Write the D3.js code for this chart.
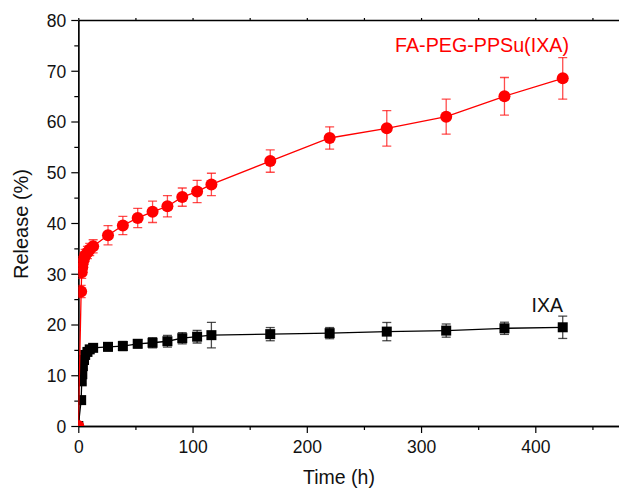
<!DOCTYPE html>
<html>
<head>
<meta charset="utf-8">
<script src="https://cdn.jsdelivr.net/npm/d3@7"></script>
<style>
  html, body { margin: 0; padding: 0; background: #fff; }
  svg { display: block; font-family: Arial, "Liberation Sans", sans-serif; }
</style>
</head>
<body>
<svg id="chart" width="619" height="488"></svg>
<script>
// ---- data ----
const timeH = [0, 2.5, 3, 3.5, 4, 5, 6, 8, 10, 13, 26, 39, 52, 65, 78, 91, 104, 116.5, 168, 220, 270, 322, 373, 424];
const releaseNP = [0, 26.5, 30.3, 31.3, 32.2, 33.0, 33.6, 34.2, 34.8, 35.4, 37.6, 39.5, 41.0, 42.2, 43.3, 45.1, 46.2, 47.6, 52.2, 56.75, 58.66, 60.95, 64.97, 68.5];
const errNP = [0, 1.2, 1.2, 1.2, 1.2, 1.2, 1.2, 1.2, 1.2, 1.3, 1.9, 1.8, 1.9, 2.1, 2.1, 1.8, 2.2, 2.2, 2.2, 2.2, 3.5, 3.45, 3.7, 4.1];
const releaseIXA = [0, 5.1, 8.8, 10.2, 11.8, 13.0, 14.0, 14.6, 15.1, 15.4, 15.6, 15.75, 16.2, 16.4, 16.7, 17.3, 17.6, 17.9, 18.1, 18.3, 18.6, 18.8, 19.25, 19.45];
const errIXA = [0, 0.5, 0.5, 0.5, 0.5, 0.5, 0.5, 0.6, 0.6, 0.7, 0.8, 0.9, 0.8, 1.0, 1.15, 1.1, 1.25, 2.5, 1.3, 1.1, 1.8, 1.3, 1.2, 2.2];
const xMajorTicks = [0, 100, 200, 300, 400];
const xMinorTicks = [50, 150, 250, 350, 450];
const yMajorTicks = [0, 10, 20, 30, 40, 50, 60, 70, 80];
const yMinorTicks = [5, 15, 25, 35, 45, 55, 65, 75];
const seriesNames = ["IXA", "FA-PEG-PPSu(IXA)"];

// ---- layout ----
const svg = d3.select("#chart");
const mLeft = 78.3, mRight = 621, mTop = 20, mBottom = 426;
const x = d3.scaleLinear().domain([0, 475]).range([mLeft, mRight]);
const y = d3.scaleLinear().domain([0, 80]).range([mBottom, mTop]);

svg.append("defs").append("clipPath").attr("id", "plotclip")
  .append("rect").attr("x", mLeft).attr("y", mTop).attr("width", mRight - mLeft).attr("height", mBottom - mTop);

const tickFont = 17.5;

// axes
const xAxis = svg.append("g").attr("transform", `translate(0,${mBottom})`)
  .call(d3.axisBottom(x).tickValues(xMajorTicks).tickSize(7).tickSizeOuter(0).tickPadding(5).tickFormat(d3.format("d")));
const xMinor = svg.append("g").attr("transform", `translate(0,${mBottom})`)
  .call(d3.axisBottom(x).tickValues(xMinorTicks).tickSize(4).tickSizeOuter(0).tickFormat(""));
const xTop = svg.append("g").attr("transform", `translate(0,${mTop})`)
  .call(d3.axisTop(x).tickValues(xMajorTicks.concat(xMinorTicks)).tickSize(2).tickSizeOuter(0).tickFormat(""));
const yAxis = svg.append("g").attr("transform", `translate(${mLeft},0)`)
  .call(d3.axisLeft(y).tickValues(yMajorTicks).tickSize(7).tickSizeOuter(0).tickPadding(5).tickFormat(d3.format("d")));
const yMinor = svg.append("g").attr("transform", `translate(${mLeft},0)`)
  .call(d3.axisLeft(y).tickValues(yMinorTicks).tickSize(4).tickSizeOuter(0).tickFormat(""));

[xAxis, xMinor, xTop, yAxis, yMinor].forEach(g => {
  g.select(".domain").attr("stroke", "#000").attr("stroke-width", 1.3);
  g.selectAll(".tick line").attr("stroke", "#000").attr("stroke-width", 1.2);
  g.selectAll(".tick text").attr("fill", "#111").attr("font-size", tickFont)
    .attr("font-family", "Arial, 'Liberation Sans', sans-serif");
});
xAxis.selectAll(".tick text").attr("dy", "0.85em");
yAxis.selectAll(".tick text").attr("dy", "0.36em");

// axis titles
svg.append("text").attr("x", 339).attr("y", 484).attr("text-anchor", "middle")
  .attr("font-size", 19.5).attr("fill", "#111").text("Time (h)");
svg.append("text").attr("transform", "translate(28,224) rotate(-90)").attr("text-anchor", "middle")
  .attr("font-size", 20).attr("fill", "#111").text("Release (%)");

// ---- series ----
const plot = svg.append("g").attr("clip-path", "url(#plotclip)");

function drawSeries(vals, errs, color, shape) {
  const pts = timeH.map((t, i) => ({ t, v: vals[i], e: errs[i] }));
  const g = plot.append("g");
  g.append("path").datum(pts)
    .attr("fill", "none").attr("stroke", color).attr("stroke-width", 1.3)
    .attr("d", d3.line().x(d => x(d.t)).y(d => y(d.v)));
  const eb = g.append("g").attr("stroke", color).attr("stroke-opacity", 0.7).attr("stroke-width", 1.3);
  const capW = 4.5;
  pts.filter(d => d.e > 0).forEach(d => {
    const cx = x(d.t), y1 = y(d.v + d.e), y2 = y(d.v - d.e);
    eb.append("line").attr("x1", cx).attr("x2", cx).attr("y1", y1).attr("y2", y2);
    eb.append("line").attr("x1", cx - capW).attr("x2", cx + capW).attr("y1", y1).attr("y2", y1);
    eb.append("line").attr("x1", cx - capW).attr("x2", cx + capW).attr("y1", y2).attr("y2", y2);
  });
  if (shape === "circle") {
    g.selectAll("circle").data(pts).join("circle")
      .attr("cx", d => x(d.t)).attr("cy", d => y(d.v)).attr("r", 6).attr("fill", color);
  } else {
    const s = 10;
    g.selectAll("rect.m").data(pts).join("rect").attr("class", "m")
      .attr("x", d => x(d.t) - s / 2).attr("y", d => y(d.v) - s / 2)
      .attr("width", s).attr("height", s).attr("fill", color);
  }
}

drawSeries(releaseIXA, errIXA, "#000000", "square");
drawSeries(releaseNP, errNP, "#ff0000", "circle");

// series labels
svg.append("text").attr("x", 395).attr("y", 51.5).attr("font-size", 19.7).attr("fill", "#ff0000").text(seriesNames[1]);
svg.append("text").attr("x", 531.5).attr("y", 311.5).attr("font-size", 19.5).attr("fill", "#111").text(seriesNames[0]);
</script>
</body>
</html>
